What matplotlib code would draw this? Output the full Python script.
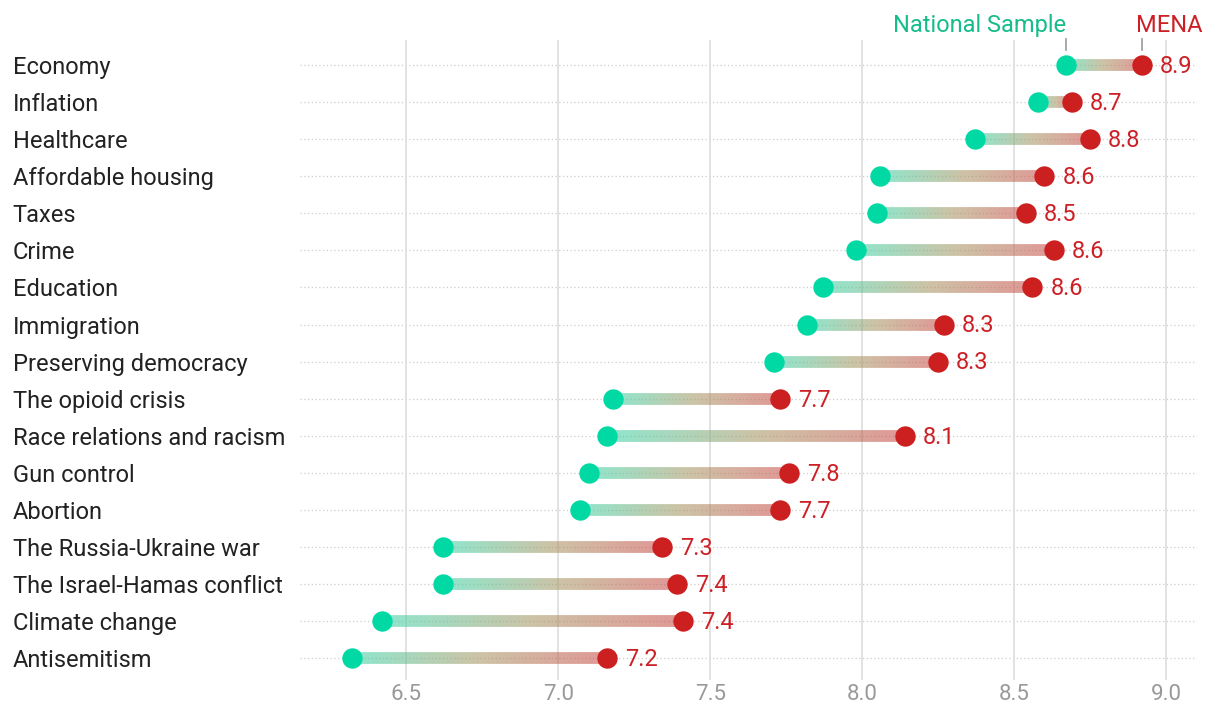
import numpy as np
import matplotlib.pyplot as plt
from matplotlib.collections import LineCollection
from matplotlib.colors import LinearSegmentedColormap

plt.rcParams['font.family'] = ['Roboto', 'DejaVu Sans']

# データ
issues = ['Economy', 'Inflation', 'Healthcare', 'Affordable housing', 'Taxes', 'Crime',
          'Education', 'Immigration', 'Preserving democracy', 'The opioid crisis',
          'Race relations and racism', 'Gun control', 'Abortion', 'The Russia-Ukraine war',
          'The Israel-Hamas conflict', 'Climate change', 'Antisemitism']
national = [8.67, 8.58, 8.37, 8.06, 8.05, 7.98, 7.87, 7.82, 7.71, 7.18, 7.16, 7.10, 7.07,
            6.62, 6.62, 6.42, 6.32]
mena = [8.92, 8.69, 8.75, 8.60, 8.54, 8.63, 8.56, 8.27, 8.25, 7.73, 8.14, 7.76, 7.73,
        7.34, 7.39, 7.41, 7.16]
mena_labels = ['8.9', '8.7', '8.8', '8.6', '8.5', '8.6', '8.6', '8.3', '8.3', '7.7', '8.1',
               '7.8', '7.7', '7.3', '7.4', '7.4', '7.2']
xticks = [6.5, 7.0, 7.5, 8.0, 8.5, 9.0]

green = '#00d9a3'
red = '#cc1f1f'
green_text = '#16bd8a'
red_text = '#cc2026'

# 線のグラデーション (緑 -> ベージュ -> 赤)
grad = LinearSegmentedColormap.from_list('grad', ['#43d5aa', '#ab9b6b', '#cb5350'])

fig = plt.figure(figsize=(12.06, 7.09), dpi=100)
ax = fig.add_axes([0.249, 0.041, 0.7435, 0.9025])

y = np.arange(len(issues))

# 横の点線
for yi in y:
    ax.axhline(yi, color='#cccccc', linestyle=(0, (1, 2)), linewidth=0.9, zorder=0)

n = 60
for yi, a, b in zip(y, national, mena):
    xs = np.linspace(a, b, n + 1)
    segs = [[(xs[i], yi), (xs[i + 1], yi)] for i in range(n)]
    cols = grad(np.linspace(0, 1, n), alpha=0.6)
    lc = LineCollection(segs, colors=cols, linewidths=8.5, capstyle='butt', zorder=2)
    ax.add_collection(lc)

ax.scatter(national, y, s=215, color=green, zorder=3, linewidths=0)
ax.scatter(mena, y, s=215, color=red, zorder=3, linewidths=0)

for yi, b, lab in zip(y, mena, mena_labels):
    ax.annotate(lab, (b, yi), xytext=(13, -1), textcoords='offset points',
                va='center', ha='left', fontsize=17, color=red_text)

# 凡例ラベル
ax.annotate('National Sample', (national[0], -0.76), xytext=(0, 0), textcoords='offset points',
            ha='right', va='bottom', fontsize=17, color=green_text, annotation_clip=False)
ax.annotate('MENA', (mena[0], -0.76), xytext=(-4, 0), textcoords='offset points',
            ha='left', va='bottom', fontsize=17, color=red_text, annotation_clip=False)
for xv in [national[0], mena[0]]:
    ax.plot([xv, xv], [-0.70, -0.40], color='#999999', linewidth=1.2, clip_on=False)

ax.set_xlim(6.151, 9.102)
ax.set_ylim(16.59, -0.675)
ax.set_xticks(xticks)
ax.set_xticklabels(['%.1f' % v for v in xticks])
ax.set_yticks(y)
ax.set_yticklabels(issues)
for lab in ax.get_yticklabels():
    lab.set_horizontalalignment('left')
ax.tick_params(axis='y', length=0, pad=207, labelsize=17, labelcolor='#222222')
ax.tick_params(axis='x', length=0, pad=3, labelsize=16, labelcolor='#999999')
ax.grid(axis='x', color='#dddddd', linewidth=1.2, zorder=0)
ax.set_axisbelow(True)
for s in ax.spines.values():
    s.set_visible(False)

fig.savefig('out.png', dpi=100)
